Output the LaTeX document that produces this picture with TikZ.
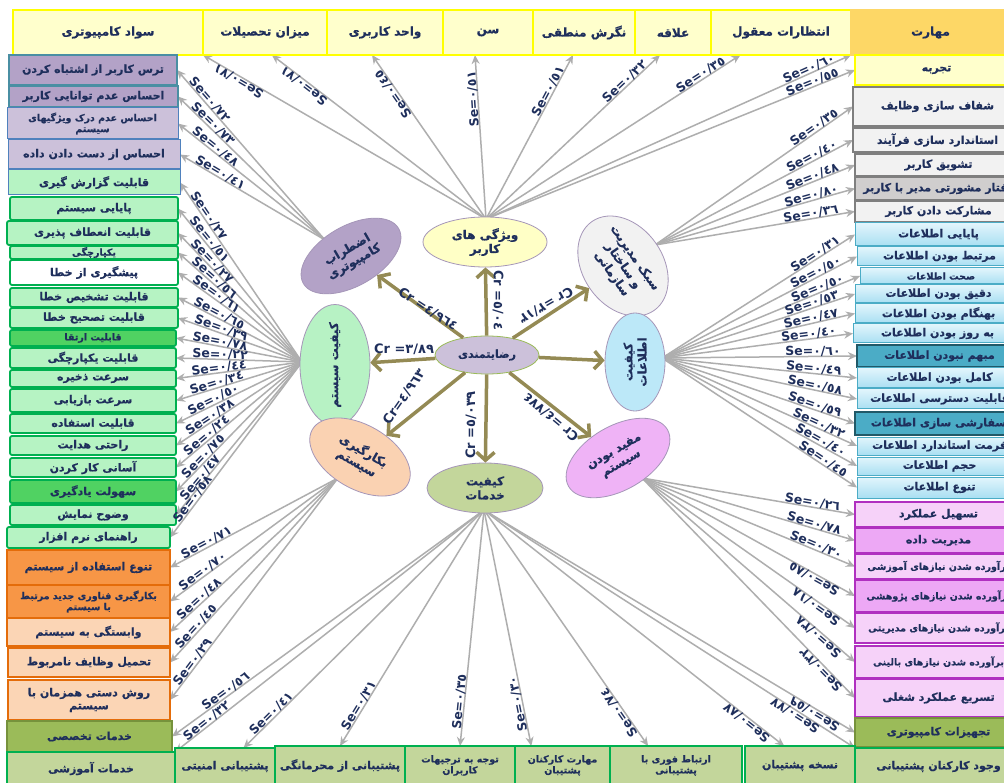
\documentclass[tikz,border=0pt]{standalone}
\usepackage{fontspec}
\usetikzlibrary{arrows.meta,calc,shapes.geometric}
\TeXXeTstate=1
\newfontfamily\fafont[Script=Arabic,BoldFeatures={FakeBold=0.6}]{DejaVu Sans}
\newfontfamily\lbfont{DejaVu Sans}
\newcommand\fa[1]{\beginR #1\endR}
\pgfdeclarelayer{bg}
\pgfsetlayers{bg,main}
\definecolor{cnavy}{HTML}{1F2F5C}
\definecolor{ctop}{HTML}{FFFFCC}
\definecolor{cyel}{HTML}{FFFF00}
\definecolor{cgold}{HTML}{FDD766}
\definecolor{cpurp}{HTML}{B3A2C7}
\definecolor{clav}{HTML}{CCC1DA}
\definecolor{cteal}{HTML}{4A8FA3}
\definecolor{cblue}{HTML}{4F81BD}
\definecolor{cmint}{HTML}{B6F3C3}
\definecolor{cgrn}{HTML}{00B050}
\definecolor{cgrnd}{HTML}{50D262}
\definecolor{corg}{HTML}{F79646}
\definecolor{corgd}{HTML}{E46C0A}
\definecolor{cpch}{HTML}{FBD5B5}
\definecolor{colv}{HTML}{9BBB59}
\definecolor{colvd}{HTML}{76923C}
\definecolor{colvl}{HTML}{C3D69B}
\definecolor{cgryf}{HTML}{F2F2F2}
\definecolor{cgryd}{HTML}{7F7F7F}
\definecolor{cgryk}{HTML}{D0CECE}
\definecolor{cblua}{HTML}{E2F5FC}
\definecolor{club}{HTML}{A9DFF2}
\definecolor{cblud}{HTML}{4BACC6}
\definecolor{cbluk}{HTML}{215968}
\definecolor{cpnk}{HTML}{F6D2F9}
\definecolor{cpnkd}{HTML}{EDA8F5}
\definecolor{cmag}{HTML}{B030C0}
\definecolor{carw}{HTML}{948A54}
\definecolor{cfan}{HTML}{AEAEAE}
\definecolor{cellb}{HTML}{A596B8}
\definecolor{cyell}{HTML}{FFFFC6}
\definecolor{cgrel}{HTML}{B7F2C4}
\definecolor{cbluel}{HTML}{BCE8F8}
\definecolor{cpeel}{HTML}{FAD2B2}
\definecolor{cpinel}{HTML}{EFB3F6}
\tikzset{
  box/.style={draw, line width=1.2pt, inner sep=1pt, outer sep=0pt, align=center,
    text=cnavy, font=\fafont\bfseries\fontsize{11}{13}\selectfont},
  topb/.style={box, fill=ctop, draw=cyel, font=\fafont\bfseries\fontsize{12}{14}\selectfont},
  goldb/.style={box, fill=cgold, draw=cgold, font=\fafont\bfseries\fontsize{12}{14}\selectfont},
  yelb/.style={box, fill=ctop, draw=cyel},
  purpb/.style={box, fill=cpurp, draw=cteal, line width=2pt},
  lavb/.style={box, fill=clav, draw=cblue, line width=1pt},
  mintb/.style={box, fill=cmint, draw=cblue, line width=1pt},
  mintg/.style={box, fill=cmint, draw=cgrn, line width=1.8pt, rounded corners=2pt},
  whtg/.style={mintg, fill=white},
  grndg/.style={mintg, fill=cgrnd},
  orgb/.style={box, fill=corg, draw=corgd, line width=1.8pt},
  pchb/.style={box, fill=cpch, draw=corgd, line width=1.8pt},
  olvb/.style={box, fill=colv, draw=colvd, line width=1.5pt},
  olvlb/.style={box, fill=colvl, draw=cgrn, line width=1.2pt},
  gryb/.style={box, fill=cgryf, draw=cgryd, line width=1.8pt},
  grykb/.style={gryb, fill=cgryk},
  blub/.style={box, top color=cblua, bottom color=club, draw=cblud, line width=1pt},
  bludk/.style={box, fill=cblud, draw=cbluk, line width=1.8pt},
  pnkb/.style={box, fill=cpnk, draw=cmag, line width=1.8pt},
  pnkdk/.style={pnkb, fill=cpnkd},
  smallf/.style={font=\fafont\bfseries\fontsize{9.5}{11}\selectfont},
  ell/.style={ellipse, draw=cellb, line width=0.8pt, inner sep=0pt, align=center,
    text=cnavy, font=\fafont\bfseries\fontsize{12}{14}\selectfont},
  fanarr/.style={draw=cfan, line width=1.5pt, -{Stealth[length=9pt,width=8pt]}},
  selab/.style={midway, sloped, allow upside down, above=-1pt, inner sep=0.5pt,
    text=cnavy, font=\lbfont\bfseries\fontsize{12.5}{13}\selectfont},
  carr/.style={draw=carw, line width=3.5pt, -{Straight Barb[length=8pt,width=18pt]}},
  crlab/.style={inner sep=0pt, text=cnavy, font=\lbfont\bfseries\fontsize{13}{14}\selectfont},
}
\newcommand\bx[7]{\node[#6,minimum width={(#4-#2)*1pt},minimum height={(#5-#3)*1pt}] (#1) at ({(#2+#4)/2},{(#3+#5)/2}) {#7};}
\newcommand\fanf[4][88]{%
  \begin{pgfonlayer}{bg}\draw[fanarr] (#2) -- (#3);\end{pgfonlayer}%
  \path ($(#3)!#1pt!(#2)$) -- (#3) node[selab]{#4};}
\newcommand\fanr[4][88]{%
  \begin{pgfonlayer}{bg}\draw[fanarr] (#2) -- (#3);\end{pgfonlayer}%
  \path (#3) -- ($(#3)!#1pt!(#2)$) node[selab]{#4};}
\begin{document}
\begin{tikzpicture}[x=1pt,y=-1pt]
\useasboundingbox (0,0) rectangle (1004,783);
\begin{pgfonlayer}{bg}\fill[white] (0,0) rectangle (1004,783);\end{pgfonlayer}
\clip (0,0) rectangle (1004,783);
% ---------- top bar
\bx{T1}{13}{10}{203}{55}{topb}{\fa{سواد کامپیوتری}}
\bx{T2}{203}{10}{327}{55}{topb}{\fa{میزان تحصیلات}}
\bx{T3}{327}{10}{443}{55}{topb}{\fa{واحد کاربری}}
\bx{T4}{443}{10}{533}{55}{topb}{\fa{سن}}
\bx{T5}{533}{10}{635}{55}{topb}{\fa{نگرش منطقی}}
\bx{T6}{635}{10}{711}{55}{topb}{\fa{علاقه}}
\bx{T7}{711}{10}{851}{55}{topb}{\fa{انتظارات معقول}}
\bx{R0}{851}{10}{1010}{55}{goldb}{\fa{مهارت}}
\bx{R1}{855}{55}{1018}{85}{yelb}{\fa{تجربه}}
% ---------- right column
\bx{G1}{853}{87}{1022}{126}{gryb}{\fa{شفاف سازی وظایف}}
\bx{G2}{853}{128}{1022}{152}{gryb}{\fa{استاندارد سازی فرآیند}}
\bx{G3}{855}{154}{1022}{176}{gryb}{\fa{تشویق کاربر}}
\bx{G4}{855}{177}{1022}{200}{grykb}{\fa{رفتار مشورتی مدیر با کاربر}}
\bx{G5}{855}{201}{1022}{222}{gryb}{\fa{مشارکت دادن کاربر}}
\bx{I1}{855}{223}{1022}{246}{blub}{\fa{پایایی اطلاعات}}
\bx{I2}{857}{247}{1022}{266}{blub}{\fa{مرتبط بودن اطلاعات}}
\bx{I3}{860}{268}{1022}{284}{blub,smallf}{\fa{صحت اطلاعات}}
\bx{I4}{855}{285}{1022}{303}{blub}{\fa{دقیق بودن اطلاعات}}
\bx{I5}{855}{304}{1022}{323}{blub}{\fa{بهنگام بودن اطلاعات}}
\bx{I6}{853}{324}{1022}{343}{blub}{\fa{به روز بودن اطلاعات}}
\bx{I7}{857}{345}{1022}{367}{bludk}{\fa{مبهم نبودن اطلاعات}}
\bx{I8}{857}{368}{1022}{388}{blub}{\fa{کامل بودن اطلاعات}}
\bx{I9}{857}{389}{1022}{409}{blub}{\fa{قابلیت دسترسی اطلاعات}}
\bx{I10}{855}{412}{1022}{435}{bludk}{\fa{سفارشی سازی اطلاعات}}
\bx{I11}{857}{437}{1022}{455}{blub}{\fa{فرمت استاندارد اطلاعات}}
\bx{I12}{857}{457}{1022}{475}{blub}{\fa{حجم اطلاعات}}
\bx{I13}{857}{477}{1022}{498}{blub}{\fa{تنوع اطلاعات}}
\bx{P1}{855}{502}{1022}{527}{pnkb}{\fa{تسهیل عملکرد}}
\bx{P2}{855}{528}{1022}{553}{pnkdk}{\fa{مدیریت داده}}
\bx{P3}{855}{554}{1022}{579}{pnkb,smallf}{\fa{برآورده شدن  نیازهای آموزشی}}
\bx{P4}{855}{580}{1022}{612}{pnkdk,smallf}{\fa{برآورده شدن  نیازهای پژوهشی}}
\bx{P5}{855}{613}{1022}{643}{pnkb,smallf}{\fa{برآورده شدن  نیازهای مدیریتی}}
\bx{P6}{855}{646}{1022}{678}{pnkb,smallf}{\fa{برآورده شدن  نیازهای بالینی}}
\bx{P7}{855}{679}{1022}{717}{pnkb}{\fa{تسریع عملکرد شغلی}}
\bx{Q1}{855}{718}{1022}{747}{olvb}{\fa{تجهیزات کامپیوتری}}
\bx{Q2}{855}{748}{1022}{785}{olvlb}{\fa{وجود کارکنان پشتیبانی}}
% ---------- left column
\bx{L1}{9}{55}{177}{85}{purpb}{\fa{ترس کاربر از اشتباه کردن}}
\bx{L2}{9}{86}{178}{107}{purpb}{\fa{احساس عدم توانایی کاربر}}
\bx{L3}{7}{108}{178}{139}{lavb,smallf}{\fa{احساس عدم درک  ویژگیهای}\\\fa{سیستم}}
\bx{L4}{8}{140}{180}{169}{lavb}{\fa{احساس از دست دادن داده}}
\bx{L5}{8}{170}{180}{195}{mintb}{\fa{قابلیت گزارش گیری}}
\bx{L6}{10}{197}{178}{220}{mintg}{\fa{پایایی سیستم}}
\bx{L7}{7}{221}{178}{245}{mintg}{\fa{قابلیت انعطاف پذیری}}
\bx{L8}{10}{246}{178}{259}{mintg,smallf}{\fa{یکپارچگی}}
\bx{L9}{10}{260}{178}{285}{whtg}{\fa{پیشگیری از خطا}}
\bx{L10}{10}{288}{178}{307}{mintg}{\fa{قابلیت تشخیص خطا}}
\bx{L11}{10}{308}{178}{328}{mintg}{\fa{قابلیت تصحیح خطا}}
\bx{L12}{10}{330}{176}{346}{grndg,smallf}{\fa{قابلیت ارتقا}}
\bx{L13}{10}{348}{176}{368}{mintg}{\fa{قابلیت یکپارچگی}}
\bx{L14}{10}{370}{176}{387}{mintg}{\fa{سرعت ذخیره}}
\bx{L15}{10}{389}{176}{412}{mintg}{\fa{سرعت بازیابی}}
\bx{L16}{10}{414}{176}{433}{mintg}{\fa{قابلیت استفاده}}
\bx{L17}{10}{436}{176}{455}{mintg}{\fa{راحتی هدایت}}
\bx{L18}{10}{458}{176}{477}{mintg}{\fa{آسانی کار کردن}}
\bx{L19}{10}{480}{176}{503}{grndg}{\fa{سهولت یادگیری}}
\bx{L20}{10}{505}{176}{525}{mintg}{\fa{وضوح نمایش}}
\bx{L21}{7}{527}{170}{548}{mintg}{\fa{راهنمای نرم افزار}}
\bx{L22}{7}{550}{170}{585}{orgb}{\fa{تنوع استفاده از سیستم}}
\bx{L23}{7}{585}{170}{618}{orgb,smallf}{\fa{بکارگیری فناوری جدید مرتبط}\\\fa{با سیستم}}
\bx{L24}{7}{618}{170}{646}{pchb}{\fa{وابستگی به سیستم}}
\bx{L25}{8}{648}{170}{677}{pchb}{\fa{تحمیل وظایف نامربوط}}
\bx{L26}{8}{680}{170}{720}{pchb}{\fa{روش دستی همزمان با}\\\fa{سیستم}}
\bx{L27}{7}{721}{172}{752}{olvb}{\fa{خدمات تخصصی}}
\bx{L28}{7}{752}{175}{785}{olvlb}{\fa{خدمات آموزشی}}
% ---------- bottom bar
\bx{B1}{175}{748}{275}{785}{olvlb}{\fa{پشتیبانی امنیتی}}
\bx{B2}{275}{746}{405}{785}{olvlb}{\fa{پشتیبانی از محرمانگی}}
\bx{B3}{405}{746}{515}{785}{olvlb,smallf}{\fa{توجه به ترجیهات}\\\fa{کاربران}}
\bx{B4}{515}{746}{610}{785}{olvlb,smallf}{\fa{مهارت کارکنان}\\\fa{پشتیبان}}
\bx{B5}{610}{746}{742}{785}{olvlb,smallf}{\fa{ارتباط فوری با}\\\fa{پشتیبانی}}
\bx{B6}{745}{746}{855}{785}{olvlb}{\fa{نسخه پشتیبان}}
% ---------- ellipses
\node[ell, fill=clav, draw=colv, minimum width=104pt, minimum height=38pt,
  font=\fafont\bfseries\fontsize{11}{13}\selectfont] (R) at (487,355) {\fa{رضایتمندی}};
\node[ell, fill=cyell, minimum width=124pt, minimum height=50pt] (B) at (485,242) {\fa{ویژگی های}\\\fa{کاربر}};
\node[ell, fill=cpurp, minimum width=110pt, minimum height=60pt, rotate=30] (A) at (351,256) {\fa{اضطراب}\\\fa{کامپیوتری}};
\node[ell, fill=cgryf, minimum width=104pt, minimum height=80pt, rotate=-55] (C) at (623,266) {\fa{سبک مدیریت}\\\fa{و ساختار}\\\fa{سازمانی}};
\node[ell, fill=cgrel, minimum width=104pt, minimum height=70pt, rotate=90] (E) at (335,365) {\fa{کیفیت سیستم}};
\node[ell, fill=cbluel, minimum width=98pt, minimum height=60pt, rotate=90] (D) at (635,362) {\fa{کیفیت}\\\fa{اطلاعات}};
\node[ell, fill=cpeel, minimum width=110pt, minimum height=64pt, rotate=-30] (F) at (360,457) {\fa{بکارگیری}\\\fa{سیستم}};
\node[ell, fill=cpinel, minimum width=114pt, minimum height=64pt, rotate=30] (G) at (618,458) {\fa{مفید بودن}\\\fa{سیستم}};
\node[ell, fill=colvl, minimum width=116pt, minimum height=50pt] (H) at (485,488) {\fa{کیفیت}\\\fa{خدمات}};
% ---------- fan sources
\coordinate (sA) at (325,240);
\coordinate (sB) at (486,219);
\coordinate (sC) at (655,245);
\coordinate (sD) at (662,358);
\coordinate (sE) at (302,362);
\coordinate (sF) at (338,478);
\coordinate (sG) at (642,478);
\coordinate (sH) at (484,510);
% ---------- top fan
\fanf{sB}{T1.south east}{Se=٠/٧١}
\fanf{sB}{T2.-73}{Se=٠/٧١}
\fanf{sB}{T3.-120}{Se=٠/٤٥}
\fanf{sB}{T4.-120}{Se=٠/٥١}
\fanf{sB}{T5.-116}{Se=٠/٥١}
\fanf{sB}{T6.-120}{Se=٠/٣٢}
\fanf{sB}{T7.-151}{Se=٠/٣٥}
\fanf{sB}{R0.south west}{Se=٠/٦٠}
\fanf{sB}{R1.west}{Se=٠/٥٥}
% ---------- management fan
\fanf{sC}{G1.west}{Se=٠/٣٥}
\fanf{sC}{G2.west}{Se=٠/٤٠}
\fanf{sC}{G3.west}{Se=٠/٤٨}
\fanf{sC}{G4.west}{Se=٠/٨٠}
\fanf{sC}{G5.west}{Se=٠/٣٦}
% ---------- information fan
\fanf{sD}{I1.west}{Se=٠/٣١}
\fanf{sD}{I2.west}{Se=٠/٥٠}
\fanf{sD}{I3.west}{Se=٠/٥٠}
\fanf{sD}{I4.west}{Se=٠/٥٣}
\fanf{sD}{I5.west}{Se=٠/٤٧}
\fanf{sD}{I6.west}{Se=٠/٤٠}
\fanf{sD}{I7.west}{Se=٠/٦٠}
\fanf{sD}{I8.west}{Se=٠/٤٩}
\fanf{sD}{I9.west}{Se=٠/٥٨}
\fanf{sD}{I10.west}{Se=٠/٥٩}
\fanf{sD}{I11.west}{Se=٠/٣٢}
\fanf{sD}{I12.west}{Se=٠/٤٠}
\fanf{sD}{I13.west}{Se=٠/٤٥}
% ---------- usefulness fan
\fanf{sG}{P1.west}{Se=٠/٢٦}
\fanf{sG}{P2.west}{Se=٠/٧٨}
\fanf{sG}{P3.west}{Se=٠/٣٠}
\fanr{sG}{P4.west}{Se=٠/٨٥}
\fanr{sG}{P5.west}{Se=٠/١٨}
\fanr{sG}{P6.west}{Se=٠/٣٨}
\fanr{sG}{P7.west}{Se=٠/٣٢}
% ---------- anxiety fan
\fanr{sA}{L1.east}{Se=٠/٧٢}
\fanr{sA}{L2.east}{Se=٠/٧٣}
\fanr{sA}{L3.east}{Se=٠/٤٨}
\fanr{sA}{L4.east}{Se=٠/٤١}
% ---------- system quality fan
\fanr{sE}{L5.east}{Se=٠/٢٧}
\fanr{sE}{L6.east}{Se=٠/٥١}
\fanr{sE}{L7.east}{Se=٠/٢٧}
\fanr{sE}{L8.east}{Se=٠/٥٦}
\fanr{sE}{L9.east}{Se=٠/٦١}
\fanr{sE}{L10.east}{Se=٠/٦٥}
\fanr{sE}{L11.east}{Se=٠/٣٩}
\fanr{sE}{L12.east}{Se=٠/٧٨}
\fanr{sE}{L13.east}{Se=٠/٢٢}
\fanr{sE}{L14.east}{Se=٠/٤٤}
\fanr{sE}{L15.east}{Se=٠/٣٤}
\fanr{sE}{L16.east}{Se=٠/٥٠}
\fanr{sE}{L17.east}{Se=٠/٣٨}
\fanr{sE}{L18.east}{Se=٠/٢٤}
\fanr{sE}{L19.east}{Se=٠/٧٥}
\fanr{sE}{L20.east}{Se=٠/٤٧}
\fanr{sE}{L21.east}{Se=٠/٥٨}
% ---------- use fan
\fanr{sF}{L22.east}{Se=٠/٧١}
\fanr{sF}{L23.east}{Se=٠/٧٠}
\fanr{sF}{L24.east}{Se=٠/٤٨}
\fanr{sF}{L25.east}{Se=٠/٤٥}
\fanr{sF}{L26.east}{Se=٠/٢٩}
% ---------- services fan
\fanr[140]{sH}{L27.east}{Se=٠/٥٦}
\fanr{sH}{L28.north east}{Se=٠/٣٢}
\fanr{sH}{B1.45}{Se=٠/٤١}
\fanr{sH}{B2.north}{Se=٠/٣١}
\fanr{sH}{B3.north}{Se=٠/٣٥}
\fanr{sH}{B4.148}{Se=٠/٣٠}
\fanr{sH}{B5.145}{Se=٠/٧٤}
\fanr{sH}{B6.129}{Se=٠/٨٧}
\fanr[136]{sH}{Q2.north west}{Se=٠/٧٧}
\fanr{sH}{Q1.west}{Se=٠/٥٩}
% ---------- centre arrows
\draw[carr] (R) -- (A);
\draw[carr] (R) -- (B);
\draw[carr] (R) -- (C);
\draw[carr] (R) -- (D);
\draw[carr] (R) -- (E);
\draw[carr] (R) -- (F);
\draw[carr] (R) -- (G);
\draw[carr] (R) -- (H);
\node[crlab, rotate=-33] (crA) at (428,309) {Cr =٤/٩٦٤};
\node[crlab, rotate=-90] (crB) at (498,300) {Cr =٥/٠٤};
\node[crlab, rotate=210] (crC) at (546,305) {Cr =٣/١٣};
\node[crlab] (crE) at (404,349) {Cr =٣/٨٩};
\node[crlab, rotate=55] (crF) at (404,397) {Cr=٤/٩٦٣};
\node[crlab, rotate=90] (crH) at (471,425) {Cr =٥/٠٣٩};
\node[crlab, rotate=140] (crG) at (551,417) {Cr =٤/٧٧٤};
\end{tikzpicture}
\end{document}
